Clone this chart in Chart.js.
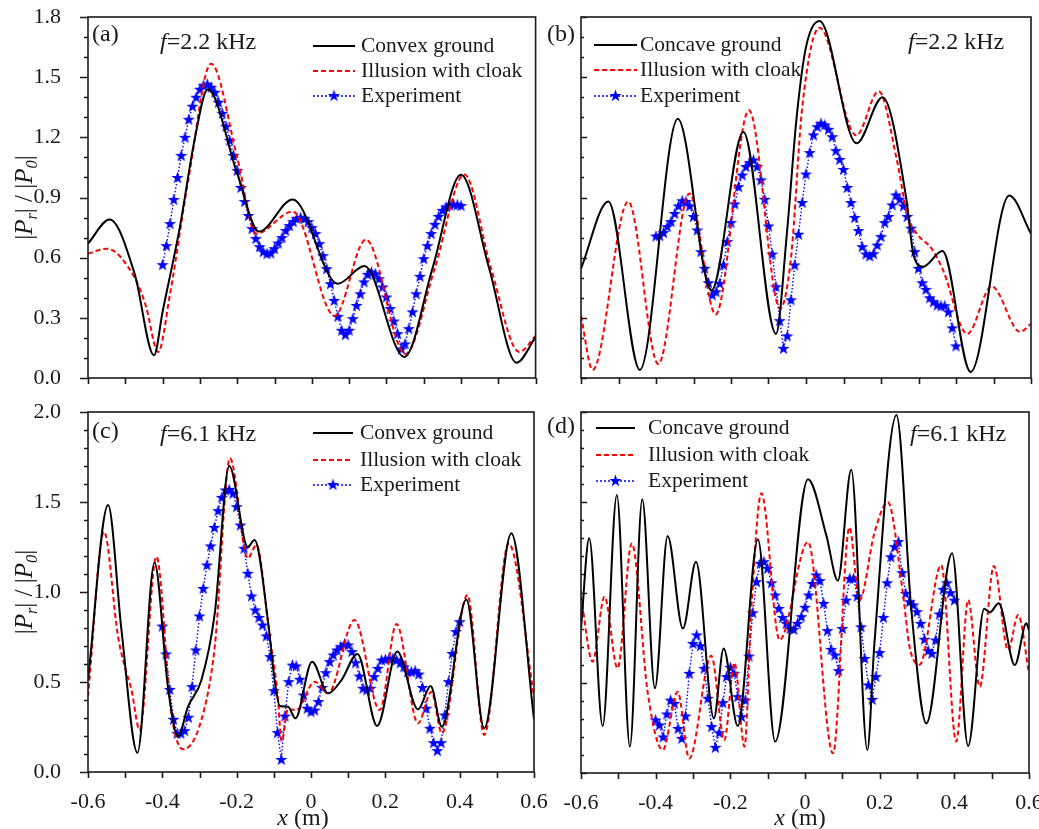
<!DOCTYPE html>
<html>
<head>
<meta charset="utf-8">
<script src="https://cdn.jsdelivr.net/npm/chart.js@4.4.1/dist/chart.umd.min.js"></script>
<style>
  html, body { margin: 0; padding: 0; background: #fff; }
  body { width: 1039px; height: 829px; position: relative; overflow: hidden; }
  canvas { position: absolute; }
</style>
</head>
<body>
<canvas id="ca"></canvas>
<canvas id="cb"></canvas>
<canvas id="cc"></canvas>
<canvas id="cd"></canvas>
<script>
// ---- data ----
// experiment points are spaced 0.01 m from -0.4 to 0.4
const expX = [];
for (let i = 0; i <= 80; i++) expX.push(Math.round(-40 + i) / 100);

// (a) f = 2.2 kHz, convex
const aConvX = [-0.6, -0.542, -0.475, -0.423, -0.4, -0.354, -0.313, -0.279, -0.2, -0.142, -0.051, 0.07, 0.141, 0.248, 0.324, 0.4, 0.475, 0.549, 0.6];
const aConvY = [0.67, 0.79, 0.52, 0.113, 0.33, 0.75, 1.2, 1.44, 1.02, 0.73, 0.89, 0.47, 0.558, 0.105, 0.55, 1.014, 0.55, 0.076, 0.204];
const aIllX = [-0.6, -0.55, -0.475, -0.445, -0.412, -0.38, -0.33, -0.27, -0.2, -0.149, -0.051, 0.061, 0.145, 0.251, 0.33, 0.409, 0.48, 0.556, 0.6];
const aIllY = [0.62, 0.645, 0.50, 0.36, 0.13, 0.42, 1.0, 1.567, 1.10, 0.72, 0.83, 0.31, 0.69, 0.12, 0.55, 1.015, 0.55, 0.13, 0.21];
const aExpY = [
  0.565, 0.66, 0.77, 0.89, 1.00, 1.11, 1.20, 1.29, 1.355, 1.40,
  1.44, 1.46, 1.465, 1.45, 1.425, 1.375, 1.32, 1.255, 1.185, 1.11,
  1.035, 0.95, 0.88, 0.81, 0.745, 0.695, 0.655, 0.63, 0.62, 0.623,
  0.645, 0.673, 0.70, 0.735, 0.76, 0.78, 0.795, 0.80, 0.795, 0.78,
  0.75, 0.72, 0.67, 0.61, 0.545, 0.47, 0.387, 0.307, 0.238, 0.216,
  0.238, 0.296, 0.362, 0.42, 0.479, 0.517, 0.528, 0.52, 0.495, 0.454,
  0.404, 0.346, 0.284, 0.221, 0.145, 0.17, 0.246, 0.33, 0.42, 0.507,
  0.595, 0.66, 0.72, 0.766, 0.806, 0.836, 0.853, 0.862, 0.866, 0.864, 0.86
];

// (b) f = 2.2 kHz, concave
const bConcX = [-0.6, -0.527, -0.443, -0.342, -0.252, -0.167, -0.08, -0.051, -0.025, 0.0, 0.036, 0.135, 0.204, 0.268, 0.286, 0.312, 0.364, 0.439, 0.542, 0.6];
const bConcY = [0.545, 0.88, 0.04, 1.293, 0.437, 1.227, 0.22, 0.72, 1.30, 1.65, 1.78, 1.17, 1.40, 0.888, 0.62, 0.555, 0.633, 0.03, 0.91, 0.72];
const bIllX = [-0.6, -0.569, -0.474, -0.394, -0.311, -0.241, -0.152, -0.069, -0.04, -0.01, 0.036, 0.134, 0.194, 0.242, 0.272, 0.30, 0.335, 0.365, 0.43, 0.495, 0.571, 0.6];
const bIllY = [0.31, 0.04, 0.88, 0.07, 0.92, 0.317, 1.335, 0.346, 0.60, 1.35, 1.747, 1.21, 1.43, 1.09, 0.80, 0.71, 0.645, 0.54, 0.22, 0.457, 0.23, 0.27];
const bExpY = [
  0.708, 0.71, 0.725, 0.755, 0.78, 0.82, 0.858, 0.884, 0.88, 0.858,
  0.805, 0.738, 0.63, 0.547, 0.475, 0.414, 0.43, 0.472, 0.564, 0.68,
  0.775, 0.868, 0.954, 1.012, 1.054, 1.074, 1.087, 1.054, 0.988, 0.891,
  0.758, 0.618, 0.455, 0.286, 0.148, 0.21, 0.39, 0.564, 0.717, 0.875,
  1.017, 1.124, 1.212, 1.253, 1.27, 1.262, 1.24, 1.203, 1.134, 1.09,
  1.04, 0.95, 0.875, 0.80, 0.735, 0.655, 0.618, 0.608, 0.62, 0.663,
  0.705, 0.775, 0.805, 0.863, 0.913, 0.891, 0.858, 0.805, 0.747, 0.63,
  0.547, 0.475, 0.442, 0.40, 0.38, 0.364, 0.36, 0.36, 0.33, 0.25, 0.16
];

// (c) f = 6.1 kHz, convex
const cConvX = [-0.6, -0.546, -0.51, -0.467, -0.421, -0.385, -0.358, -0.331, -0.295, -0.259, -0.22, -0.17, -0.152, -0.116, -0.098, -0.084, -0.062, -0.042, 0.003, 0.046, 0.082, 0.125, 0.178, 0.232, 0.288, 0.322, 0.352, 0.418, 0.466, 0.539, 0.6];
const cConvY = [0.51, 1.483, 0.79, 0.107, 1.163, 0.474, 0.196, 0.363, 0.51, 0.88, 1.70, 1.25, 1.289, 0.844, 0.511, 0.367, 0.363, 0.298, 0.613, 0.437, 0.511, 0.656, 0.256, 0.669, 0.348, 0.478, 0.252, 0.959, 0.243, 1.326, 0.293];
const cIllX = [-0.6, -0.557, -0.519, -0.501, -0.483, -0.461, -0.416, -0.376, -0.344, -0.295, -0.259, -0.218, -0.17, -0.147, -0.111, -0.09, -0.079, -0.062, -0.04, 0.01, 0.046, 0.117, 0.185, 0.23, 0.288, 0.324, 0.352, 0.421, 0.466, 0.532, 0.6];
const cIllY = [0.42, 1.335, 0.75, 0.585, 0.456, 0.233, 1.196, 0.326, 0.126, 0.289, 0.696, 1.743, 1.187, 1.261, 0.75, 0.437, 0.17, 0.35, 0.344, 0.502, 0.437, 0.844, 0.344, 0.822, 0.27, 0.446, 0.215, 0.983, 0.206, 1.27, 0.42];
const cExpY = [
  0.811, 0.656, 0.459, 0.293, 0.215, 0.215, 0.23, 0.304, 0.474, 0.678,
  0.867, 1.02, 1.15, 1.256, 1.359, 1.452, 1.526, 1.567, 1.57, 1.548,
  1.474, 1.372, 1.243, 1.104, 0.978, 0.90, 0.859, 0.817, 0.756, 0.641,
  0.452, 0.219, 0.07, 0.311, 0.502, 0.594, 0.589, 0.515, 0.428, 0.354,
  0.335, 0.344, 0.391, 0.47, 0.552, 0.613, 0.65, 0.678, 0.696, 0.711,
  0.706, 0.669, 0.607, 0.533, 0.465, 0.456, 0.465, 0.53, 0.576, 0.622,
  0.626, 0.631, 0.631, 0.622, 0.607, 0.585, 0.557, 0.557, 0.563, 0.544,
  0.47, 0.354, 0.243, 0.163, 0.119, 0.163, 0.317, 0.502, 0.659, 0.78, 0.835
];

// (d) f = 6.1 kHz, concave
const dConcX = [-0.6, -0.578, -0.542, -0.504, -0.469, -0.436, -0.402, -0.368, -0.327, -0.292, -0.244, -0.218, -0.18, -0.126, -0.08, 0.008, 0.057, 0.088, 0.124, 0.167, 0.186, 0.245, 0.285, 0.325, 0.394, 0.437, 0.48, 0.495, 0.519, 0.562, 0.593, 0.6];
const dConcY = [0.8, 1.30, 0.26, 1.54, 0.146, 1.516, 0.469, 1.313, 0.80, 1.17, 0.303, 0.69, 0.26, 1.295, 0.174, 1.627, 1.318, 1.066, 1.68, 0.127, 0.72, 1.983, 0.90, 0.275, 1.217, 0.15, 0.91, 0.89, 0.94, 0.598, 0.829, 0.79];
const dIllX = [-0.6, -0.569, -0.537, -0.502, -0.464, -0.421, -0.381, -0.341, -0.31, -0.251, -0.216, -0.189, -0.162, -0.144, -0.117, -0.068, 0.008, 0.075, 0.119, 0.146, 0.186, 0.222, 0.262, 0.28, 0.307, 0.365, 0.405, 0.437, 0.468, 0.506, 0.544, 0.571, 0.6];
const dIllY = [0.977, 0.617, 0.977, 0.58, 1.272, 0.44, 0.127, 0.45, 0.08, 0.65, 0.183, 0.611, 0.146, 0.90, 1.55, 0.737, 1.28, 0.109, 1.361, 0.958, 1.33, 1.50, 1.0, 0.70, 0.60, 1.152, 0.174, 0.958, 0.478, 1.147, 0.681, 0.875, 0.552];
const dExpY = [
  0.294, 0.266, 0.20, 0.327, 0.404, 0.386, 0.247, 0.192, 0.316, 0.552,
  0.718, 0.765, 0.705, 0.58, 0.414, 0.257, 0.142, 0.223, 0.39, 0.534,
  0.585, 0.552, 0.423, 0.312, 0.404, 0.648, 0.888, 1.06, 1.162, 1.171,
  1.134, 1.054, 0.986, 0.912, 0.862, 0.829, 0.801, 0.796, 0.829, 0.866,
  0.918, 0.986, 1.05, 1.097, 1.066, 0.94, 0.789, 0.685, 0.654, 0.567,
  0.801, 0.958, 1.078, 1.078, 0.98, 0.81, 0.635, 0.488, 0.408, 0.534,
  0.667, 0.862, 1.054, 1.198, 1.254, 1.282, 1.11, 0.995, 0.949, 0.931,
  0.894, 0.829, 0.741, 0.678, 0.663, 0.737, 0.881, 1.018, 1.054, 0.999, 0.958
];

const SERIF = '"Liberation Serif", "Times New Roman", serif';
const INK = '#1a1a1a';
Chart.defaults.font.family = SERIF;
Chart.defaults.color = INK;

// filled five-point star used as the experiment marker
function makeStar() {
  const c = document.createElement('canvas');
  c.width = 13; c.height = 13;
  const g = c.getContext('2d');
  g.fillStyle = '#0000ff';
  g.beginPath();
  for (let i = 0; i < 10; i++) {
    const r = i % 2 ? 2.6 : 6.4;
    const ang = -Math.PI / 2 + i * Math.PI / 5;
    const px = 6.5 + r * Math.cos(ang), py = 7 + r * Math.sin(ang);
    if (i) g.lineTo(px, py); else g.moveTo(px, py);
  }
  g.closePath();
  g.fill();
  return c;
}
const star = makeStar();

function pts(xs, ys) { return xs.map((x, i) => ({ x: x, y: ys[i] })); }

// text with italic / subscript pieces
function richWidth(ctx, parts, size) {
  let w = 0;
  parts.forEach(p => {
    const s = p.sub ? size * 0.66 : size;
    ctx.font = (p.it ? 'italic ' : '') + s + 'px ' + SERIF;
    w += ctx.measureText(p.t).width;
  });
  return w;
}
function drawRich(ctx, parts, x, y, size) {
  let cx = x;
  ctx.textBaseline = 'middle';
  ctx.textAlign = 'left';
  parts.forEach(p => {
    const s = p.sub ? size * 0.66 : size;
    ctx.font = (p.it ? 'italic ' : '') + s + 'px ' + SERIF;
    ctx.fillText(p.t, cx, y + (p.sub ? size * 0.3 : 0));
    cx += ctx.measureText(p.t).width;
  });
}

const deco = {
  id: 'deco',
  afterDraw(chart, args, o) {
    const ctx = chart.ctx, a = chart.chartArea;
    const xs = chart.scales.x, ys = chart.scales.y;
    ctx.save();
    ctx.strokeStyle = INK;
    ctx.fillStyle = INK;
    ctx.lineWidth = 1.6;
    ctx.setLineDash([]);
    ctx.strokeRect(a.left, a.top, a.right - a.left, a.bottom - a.top);
    ctx.beginPath();
    xs.ticks.forEach(t => {
      const p = Math.round(xs.getPixelForValue(t.value)) + 0.5;
      ctx.moveTo(p, a.bottom); ctx.lineTo(p, a.bottom + 6);
    });
    ys.ticks.forEach(t => {
      const p = Math.round(ys.getPixelForValue(t.value)) + 0.5;
      const k = Math.round(t.value * 10);
      const len = k % o.major === 0 ? (o.inside ? 6 : 8) : (o.inside ? 3 : 4);
      const dir = o.inside ? 1 : -1;
      ctx.moveTo(a.left, p); ctx.lineTo(a.left + dir * len, p);
    });
    ctx.stroke();

    // panel letter and frequency
    drawRich(ctx, [{ t: o.tag }], o.tagPos[0], o.tagPos[1], 24);
    drawRich(ctx, [{ t: 'f', it: 1 }, { t: '=' + o.freq + ' kHz' }], o.freqPos[0], o.freqPos[1], 24);

    // legend
    const items = [
      { label: o.names[0], color: '#000000', dash: [], lw: 2 },
      { label: 'Illusion with cloak', color: '#ff0000', dash: [5, 3], lw: 2 },
      { label: 'Experiment', color: '#0000ff', dash: [2, 2], lw: 1.5, star: true }
    ];
    const L = o.legend;
    items.forEach((it, i) => {
      const y = L.rows[i];
      ctx.strokeStyle = it.color;
      ctx.lineWidth = it.lw;
      ctx.setLineDash(it.dash);
      ctx.beginPath();
      ctx.moveTo(L.x0, y); ctx.lineTo(L.x1, y);
      ctx.stroke();
      if (it.star) ctx.drawImage(star, (L.x0 + L.x1) / 2 - 6.5, y - 7);
      ctx.setLineDash([]);
      ctx.fillStyle = INK;
      drawRich(ctx, [{ t: it.label }], L.tx, y, 21.5);
    });

    // axis titles
    if (o.yTitle) {
      const parts = [{ t: '|' }, { t: 'P', it: 1 }, { t: 'r', it: 1, sub: 1 }, { t: '| / |' },
                     { t: 'P', it: 1 }, { t: '0', it: 1, sub: 1 }, { t: '|' }];
      const w = richWidth(ctx, parts, 25);
      ctx.save();
      ctx.translate(25, (a.top + a.bottom) / 2);
      ctx.rotate(-Math.PI / 2);
      drawRich(ctx, parts, -w / 2, 0, 25);
      ctx.restore();
    }
    if (o.xTitle) {
      const parts = [{ t: 'x', it: 1 }, { t: ' (m)' }];
      const w = richWidth(ctx, parts, 24);
      drawRich(ctx, parts, o.xTitle - w / 2, 819 - chart.canvas.offsetTop, 24);
    }
    ctx.restore();
  }
};

function makePanel(id, box, area, ymax, major, conv, ill, expY, o) {
  const cv = document.getElementById(id);
  cv.width = box[2]; cv.height = box[3];
  cv.style.left = box[0] + 'px'; cv.style.top = box[1] + 'px';
  cv.style.width = box[2] + 'px'; cv.style.height = box[3] + 'px';
  const wy = area[0] - box[0];
  const hx = box[1] + box[3] - area[3];
  const xLab = v => { const k = Math.round(v * 10); return k % 2 ? '' : (k === 0 ? '0' : (k / 10).toFixed(1)); };
  const yLab = v => { const k = Math.round(v * 10); return k % major ? '' : (k / 10).toFixed(1); };
  o.major = major;
  new Chart(cv, {
    type: 'line',
    data: {
      datasets: [
        { data: pts(conv[0], conv[1]), borderColor: '#000000', borderWidth: 2, pointRadius: 0,
          cubicInterpolationMode: 'monotone' },
        { data: pts(ill[0], ill[1]), borderColor: '#ff0000', borderWidth: 2, borderDash: [5, 3],
          pointRadius: 0, cubicInterpolationMode: 'monotone' },
        { data: pts(expX, expY), borderColor: '#0000ff', borderWidth: 1.4, borderDash: [1.5, 2],
          pointStyle: star, pointRadius: 5, tension: 0 }
      ]
    },
    options: {
      responsive: false,
      animation: false,
      devicePixelRatio: 1,
      events: [],
      layout: { padding: { left: 0, top: area[1] - box[1], right: box[0] + box[2] - area[2], bottom: 0 } },
      plugins: { legend: { display: false }, tooltip: { enabled: false }, deco: o },
      scales: {
        x: {
          type: 'linear', min: -0.6, max: 0.6,
          grid: { display: false }, border: { display: false },
          ticks: { stepSize: 0.1, display: o.xTitle ? true : false, autoSkip: false, maxRotation: 0,
                   padding: 9, font: { size: 22 }, callback: xLab },
          afterFit: s => { s.height = hx; s.paddingLeft = 0; s.paddingRight = 0; }
        },
        y: {
          min: 0, max: ymax,
          grid: { display: false }, border: { display: false },
          ticks: { stepSize: 0.1, display: o.yTitle ? true : false, autoSkip: false,
                   padding: 19, font: { size: 22 }, callback: yLab },
          afterFit: s => { s.width = wy; s.paddingTop = 0; s.paddingBottom = 0; }
        }
      }
    },
    plugins: [deco]
  });
}

makePanel('ca', [0, 0, 542, 392], [88, 17, 536, 378], 1.8, 3,
  [aConvX, aConvY], [aIllX, aIllY], aExpY,
  { tag: '(a)', tagPos: [92, 35], freq: '2.2', freqPos: [160, 43], names: ['Convex ground'],
    legend: { x0: 313, x1: 355, tx: 361, rows: [46, 71, 96] }, yTitle: true, inside: false });

makePanel('cb', [545, 0, 494, 392], [581, 17, 1031, 378], 1.8, 3,
  [bConcX, bConcY], [bIllX, bIllY], bExpY,
  { tag: '(b)', tagPos: [2, 35], freq: '2.2', freqPos: [363, 43], names: ['Concave ground'],
    legend: { x0: 49, x1: 92, tx: 95, rows: [45, 70, 96] }, yTitle: false, inside: true });

makePanel('cc', [0, 392, 560, 437], [88, 412, 534, 772], 2.0, 5,
  [cConvX, cConvY], [cIllX, cIllY], cExpY,
  { tag: '(c)', tagPos: [92, 40], freq: '6.1', freqPos: [160, 43], names: ['Convex ground'],
    legend: { x0: 313, x1: 353, tx: 360, rows: [41, 68, 93] }, yTitle: true, xTitle: 303, inside: false });

makePanel('cd', [545, 392, 494, 437], [581, 412, 1029, 773], 2.0, 5,
  [dConcX, dConcY], [dIllX, dIllY], dExpY,
  { tag: '(d)', tagPos: [2, 35], freq: '6.1', freqPos: [365, 43], names: ['Concave ground'],
    legend: { x0: 51, x1: 90, tx: 103, rows: [36, 63, 89] }, yTitle: false, xTitle: 255, inside: true });
</script>
</body>
</html>
